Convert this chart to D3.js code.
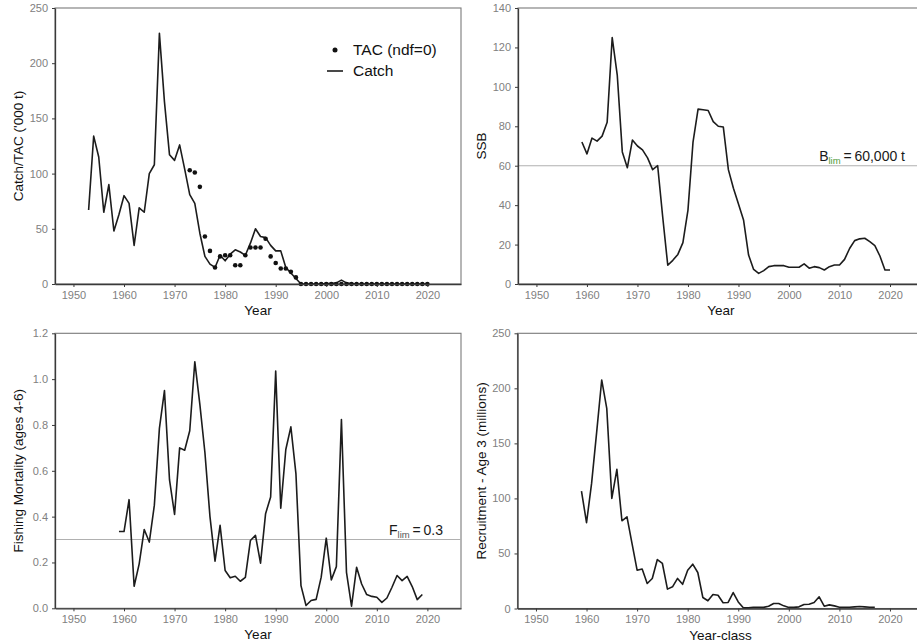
<!DOCTYPE html>
<html><head><meta charset="utf-8">
<script src="https://cdn.jsdelivr.net/npm/d3@7"></script>
<style>
body{margin:0;background:#fff}
svg{display:block}
text{font-family:"Liberation Sans",Arial,Helvetica,sans-serif}
</style>
</head><body>
<svg id="chart" width="917" height="644"></svg>
<script>
// ---------------- DATA ----------------
const xTicks = [1950, 1960, 1970, 1980, 1990, 2000, 2010, 2020];
const xLimits = [1950, 2023];

const catchStart = 1953;
const catchValues = [
  67,134,115,65,90,48,63,80,73,35,
  69,65,100,108,227,165,117,112,126,104,
  81,73,46,25,18,15,26,21,27,31,
  29,26,37,50,43,42,35,30,30,15,
  10,5,0,0,0,0,0,0.5,0.5,1,
  3.5,1,0.3,0,0,0,0,0,0,0,
  0,0,0,0,0,0,0,0
];

const tacStart = 1973;
const tacValues = [
  103,101,88,43,30,15,25,26,26,17,
  17,26,33,33,33,41,25,19,14,14,
  11,6,0,0,0,0,0,0,0,0,
  0,0,0,0,0,0,0,0,0,0,
  0,0,0,0,0,0,0,0
];

const ssbStart = 1959;
const ssbValues = [
  72,66,74,72.5,75,82,125,106,67,59,
  73,70,68,64,58,60,34,9.5,12,15,
  21,37.5,72,88.7,88.4,88,82.4,80,79.6,58,
  48.6,40.6,32.5,14.7,7.4,5.4,6.8,8.8,9.3,9.3,
  9.3,8.5,8.5,8.5,10.2,8,8.8,8.3,7.1,8.8,
  9.6,9.6,12.5,18,22,22.9,23.2,21.5,19.5,14.2,
  7.1,7.1
];

const fStart = 1959;
const fValues = [
  0.335,0.335,0.474,0.096,0.194,0.344,0.289,0.45,0.785,0.95,
  0.56,0.41,0.70,0.69,0.775,1.076,0.89,0.68,0.40,0.206,
  0.362,0.165,0.133,0.14,0.118,0.135,0.296,0.318,0.197,0.413,
  0.486,1.035,0.437,0.693,0.792,0.588,0.099,0.012,0.034,0.039,
  0.136,0.306,0.124,0.182,0.824,0.157,0.009,0.179,0.106,0.06,
  0.052,0.048,0.026,0.045,0.092,0.143,0.121,0.139,0.095,0.038,
  0.06
];

const recStart = 1959;
const recValues = [
  106.7,77.9,113.6,160,207.6,181.8,100,126.4,79.7,83.3,
  59,34.8,35.8,22.7,27.3,44.5,40.9,17.6,19.7,27.3,
  22,34.8,40.3,32.7,10,7,12.7,12,5.2,5.5,
  14.5,6,0.6,0.6,1.2,1.2,1,2.1,4.5,4.5,
  2.4,1,1,1.5,3.6,3.9,5.5,10.6,2.1,3.3,
  2.4,1.2,1.2,1.2,1.5,1.8,1.5,1.2,1.2
];

const catchTicks = [0, 50, 100, 150, 200, 250];
const ssbTicks = [0, 20, 40, 60, 80, 100, 120, 140];
const fTicks = [0, 0.2, 0.4, 0.6, 0.8, 1.0, 1.2];
const recTicks = [0, 50, 100, 150, 200, 250];

const blimValue = 60;
const flimValue = 0.3;

const legendLabels = ["TAC (ndf=0)", "Catch"];

// ---------------- DRAWING ----------------
const svg = d3.select("#chart");
const toSeries = (start, vals) => vals.map((v, i) => ({year: start + i, value: v}));

const pad = (xLimits[1] - xLimits[0]) * 0.05;
const xDomain = [xLimits[0] - pad, xLimits[1] + pad];

const AXIS = "#3a3a3a", BORDER = "#7a7a7a", TICKTXT = "#808080", REF = "#b0b0b0", LINE = "#1c1c1c";

function makePanel(cfg) {
  const g = svg.append("g");
  const x = d3.scaleLinear().domain(xDomain).range([cfg.l, cfg.r]);
  const y = d3.scaleLinear().domain([0, cfg.yTicks[cfg.yTicks.length - 1]]).range([cfg.b, cfg.t]);

  // panel border
  g.append("rect").attr("x", cfg.l).attr("y", cfg.t)
    .attr("width", cfg.r - cfg.l).attr("height", cfg.b - cfg.t)
    .attr("fill", "none").attr("stroke", BORDER).attr("stroke-width", 1.1);

  // reference line
  if (cfg.ref !== undefined) {
    g.append("line").attr("x1", cfg.l).attr("x2", cfg.r)
      .attr("y1", y(cfg.ref)).attr("y2", y(cfg.ref))
      .attr("stroke", REF).attr("stroke-width", 1.1);
  }

  // series line
  const line = d3.line().x(d => x(d.year)).y(d => y(d.value));
  g.append("path").datum(cfg.series).attr("d", line)
    .attr("fill", "none").attr("stroke", LINE).attr("stroke-width", 1.6)
    .attr("stroke-linejoin", "round");

  if (cfg.points) {
    g.selectAll("circle.pt").data(cfg.points).join("circle")
      .attr("class", "pt").attr("cx", d => x(d.year)).attr("cy", d => y(d.value))
      .attr("r", 2.3).attr("fill", "#111");
  }

  // axes
  const xa = g.append("g").attr("transform", `translate(0,${cfg.b})`)
    .call(d3.axisBottom(x).tickValues(xTicks).tickFormat(d3.format("d")).tickSize(3).tickSizeOuter(0).tickPadding(4));
  const ya = g.append("g").attr("transform", `translate(${cfg.l},0)`)
    .call(d3.axisLeft(y).tickValues(cfg.yTicks).tickFormat(cfg.fmt).tickSize(3).tickSizeOuter(0).tickPadding(4));
  [xa, ya].forEach(a => {
    a.select(".domain").attr("stroke", AXIS).attr("stroke-width", 1.3);
    a.selectAll(".tick line").attr("stroke", AXIS).attr("stroke-width", 1);
    a.selectAll(".tick text").attr("fill", TICKTXT).style("font-size", "11px")
      .style("font-family", '"Liberation Sans",Arial,sans-serif');
  });

  // titles
  g.append("text").attr("x", (cfg.l + cfg.r) / 2).attr("y", cfg.b + 31)
    .attr("text-anchor", "middle").attr("fill", "#111").style("font-size", "13.5px").text(cfg.xTitle);
  g.append("text").attr("transform", `translate(${cfg.yTitleX},${(cfg.t + cfg.b) / 2}) rotate(-90)`)
    .attr("text-anchor", "middle").attr("dy", "0.35em").attr("fill", "#111")
    .style("font-size", "13.5px").text(cfg.yTitle);

  return {x, y, g};
}

// Top-left: Catch / TAC
const p1 = makePanel({
  l: 55, r: 461, t: 8, b: 284, yTicks: catchTicks, fmt: d3.format("d"),
  series: toSeries(catchStart, catchValues), points: toSeries(tacStart, tacValues),
  xTitle: "Year", yTitle: "Catch/TAC ('000 t)", yTitleX: 18
});
// legend
p1.g.append("circle").attr("cx", 335).attr("cy", 50).attr("r", 2.5).attr("fill", "#111");
p1.g.append("line").attr("x1", 327).attr("x2", 343).attr("y1", 71).attr("y2", 71)
  .attr("stroke", LINE).attr("stroke-width", 1.6);
p1.g.selectAll("text.leg").data(legendLabels).join("text").attr("class", "leg")
  .attr("x", 353).attr("y", (d, i) => 50 + i * 21).attr("dy", "0.35em")
  .attr("fill", "#111").style("font-size", "15.5px").text(d => d);

// Top-right: SSB
const p2 = makePanel({
  l: 518, r: 923.6, t: 8, b: 284, yTicks: ssbTicks, fmt: d3.format("d"),
  series: toSeries(ssbStart, ssbValues), ref: blimValue,
  xTitle: "Year", yTitle: "SSB", yTitleX: 481
});
{
  const t = p2.g.append("text").attr("x", 905).attr("y", p2.y(blimValue) - 5)
    .attr("text-anchor", "end").attr("fill", "#1a1a1a").style("font-size", "14px");
  t.append("tspan").text("B");
  t.append("tspan").attr("dy", 3).style("font-size", "9.5px").attr("fill", "#4f9a3a").text("lim");
  t.append("tspan").attr("dy", -3).text("\u2009=\u2009" + d3.format(",")(blimValue * 1000) + " t");
}

// Bottom-left: Fishing mortality
const p3 = makePanel({
  l: 55, r: 461, t: 333.3, b: 608.3, yTicks: fTicks, fmt: d3.format(".1f"),
  series: toSeries(fStart, fValues), ref: flimValue,
  xTitle: "Year", yTitle: "Fishing Mortality (ages 4-6)", yTitleX: 18
});
{
  const t = p3.g.append("text").attr("x", 443).attr("y", p3.y(flimValue) - 5)
    .attr("text-anchor", "end").attr("fill", "#1a1a1a").style("font-size", "14px");
  t.append("tspan").text("F");
  t.append("tspan").attr("dy", 3).style("font-size", "9.5px").attr("fill", "#555").text("lim");
  t.append("tspan").attr("dy", -3).text("\u2009=\u2009" + flimValue);
}

// Bottom-right: Recruitment
makePanel({
  l: 517.5, r: 923.6, t: 333.3, b: 608.5, yTicks: recTicks, fmt: d3.format("d"),
  series: toSeries(recStart, recValues),
  xTitle: "Year-class", yTitle: "Recruitment - Age 3 (millions)", yTitleX: 481
});
</script>
</body></html>
